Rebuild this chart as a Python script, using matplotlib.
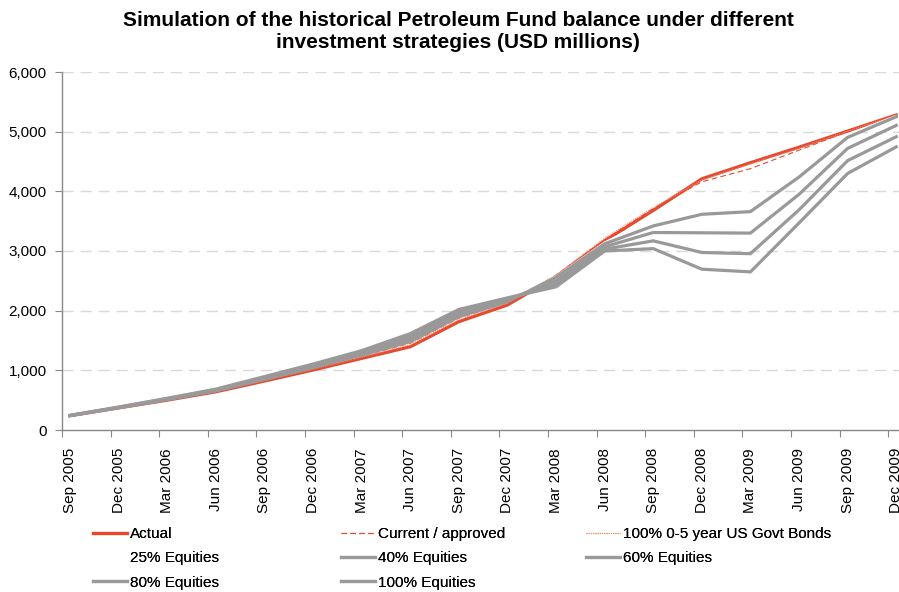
import matplotlib
matplotlib.use('Agg')
import matplotlib.pyplot as plt
from matplotlib.lines import Line2D
import numpy as np

plt.rcParams['font.family'] = ['Liberation Sans', 'DejaVu Sans']

# quarters on the category axis
quarters = ['Sep 2005', 'Dec 2005', 'Mar 2006', 'Jun 2006', 'Sep 2006', 'Dec 2006',
            'Mar 2007', 'Jun 2007', 'Sep 2007', 'Dec 2007', 'Mar 2008', 'Jun 2008',
            'Sep 2008', 'Dec 2008', 'Mar 2009', 'Jun 2009', 'Sep 2009', 'Dec 2009']

# fund balance, USD millions
actual = [240, 370, 500, 640, 820, 1005, 1200, 1395, 1815, 2095, 2570, 3170,
          3680, 4210, 4480, 4740, 5010, 5280]
current_approved = [240, 372, 505, 650, 835, 1030, 1235, 1455, 1875, 2140, 2590, 3190,
                    3710, 4160, 4380, 4690, 5000, 5270]
bonds_100 = [240, 370, 502, 645, 828, 1018, 1220, 1430, 1850, 2125, 2600, 3215,
             3730, 4190, 4460, 4720, 5005, 5275]
equities_25 = [240, 372, 508, 652, 845, 1040, 1245, 1470, 1890, 2150, 2580, 3150,
               3560, 3900, 4000, 4480, 4960, 5270]
equities_40 = [240, 372, 510, 655, 850, 1045, 1255, 1480, 1900, 2150, 2560, 3120,
               3420, 3615, 3660, 4240, 4905, 5250]
equities_60 = [242, 376, 518, 665, 865, 1065, 1280, 1525, 1940, 2175, 2500, 3070,
               3310, 3305, 3300, 3950, 4720, 5105]
equities_80 = [244, 380, 525, 675, 880, 1085, 1305, 1570, 1980, 2195, 2450, 3030,
               3170, 2975, 2955, 3690, 4515, 4915]
equities_100 = [246, 385, 532, 685, 895, 1105, 1330, 1615, 2020, 2215, 2400, 3000,
                3040, 2695, 2650, 3470, 4300, 4745]

RED = '#E64A2E'
GREY = '#999999'

fig = plt.figure(figsize=(8.99, 5.92), dpi=100)
ax = fig.add_axes([62 / 899, 162 / 592, 843 / 899, 358 / 592])

x = np.arange(len(quarters))
ax.plot(x, actual, color=RED, lw=2.3, solid_joinstyle='miter')
ax.plot(x, current_approved, color=RED, lw=0.8, ls=(0, (5, 3)))
ax.plot(x, bonds_100, color='#F08A70', lw=0.8, ls=(0, (1, 1)))
ax.plot(x, equities_25, color='white', lw=1.0)
for s in [equities_40, equities_60, equities_80, equities_100]:
    ax.plot(x, s, color=GREY, lw=2.3, solid_joinstyle='miter')

# axes styling
off = 0.165
ax.set_xlim(-off, 17.18)
ax.set_ylim(0, 6000)
ax.set_xticks(x - off)
ax.set_xticklabels([])
ax.set_xticks(x, minor=True)
ax.set_xticklabels(quarters, minor=True, rotation=90, fontsize=11)
ax.tick_params(axis='x', which='major', length=5, color='#888888', direction='out')
ax.tick_params(axis='x', which='minor', length=0, pad=13)

ax.set_yticks(np.arange(0, 6001, 1000))
ax.set_yticklabels(['{:,}'.format(v) for v in range(0, 6001, 1000)], fontsize=11)
ax.tick_params(axis='y', length=5, color='#888888', pad=6)

for sp in ['top', 'right']:
    ax.spines[sp].set_visible(False)
for sp in ['left', 'bottom']:
    ax.spines[sp].set_color('#888888')
    ax.spines[sp].set_linewidth(1.0)

for v in range(1000, 6001, 1000):
    ax.axhline(v, color='#d9d9d9', lw=1.0, ls=(0, (8, 5)), zorder=0)

fig.text(458 / 899, 1 - 11 / 592,
         'Simulation of the historical Petroleum Fund balance under different\n'
         'investment strategies (USD millions)',
         ha='center', va='top', fontsize=15, fontweight='bold', linespacing=1.22)

# legend, laid out in three columns like the original
h_actual = Line2D([], [], color=RED, lw=2.3)
h_cur = Line2D([], [], color=RED, lw=0.8, ls=(0, (5, 3)))
h_bond = Line2D([], [], color='#F08A70', lw=0.8, ls=(0, (1, 1)))
h_25 = Line2D([], [], color='white', lw=2.3)
h_grey = Line2D([], [], color=GREY, lw=2.3)

columns = [
    ([h_actual, h_25, h_grey], ['Actual', '25% Equities', '80% Equities'], 93),
    ([h_cur, h_grey, h_grey], ['Current / approved', '40% Equities', '100% Equities'], 341),
    ([h_bond, h_grey], ['100% 0-5 year US Govt Bonds', '60% Equities'], 586),
]
for handles, labels, xpos in columns:
    leg = fig.legend(handles, labels, loc='upper left',
                     bbox_to_anchor=(xpos / 899, 1 - 527 / 592),
                     frameon=False, fontsize=11, handlelength=2.2,
                     handletextpad=0.25, labelspacing=0.68,
                     borderpad=0, borderaxespad=0)
    fig.add_artist(leg)

fig.savefig('out.png', dpi=100)
